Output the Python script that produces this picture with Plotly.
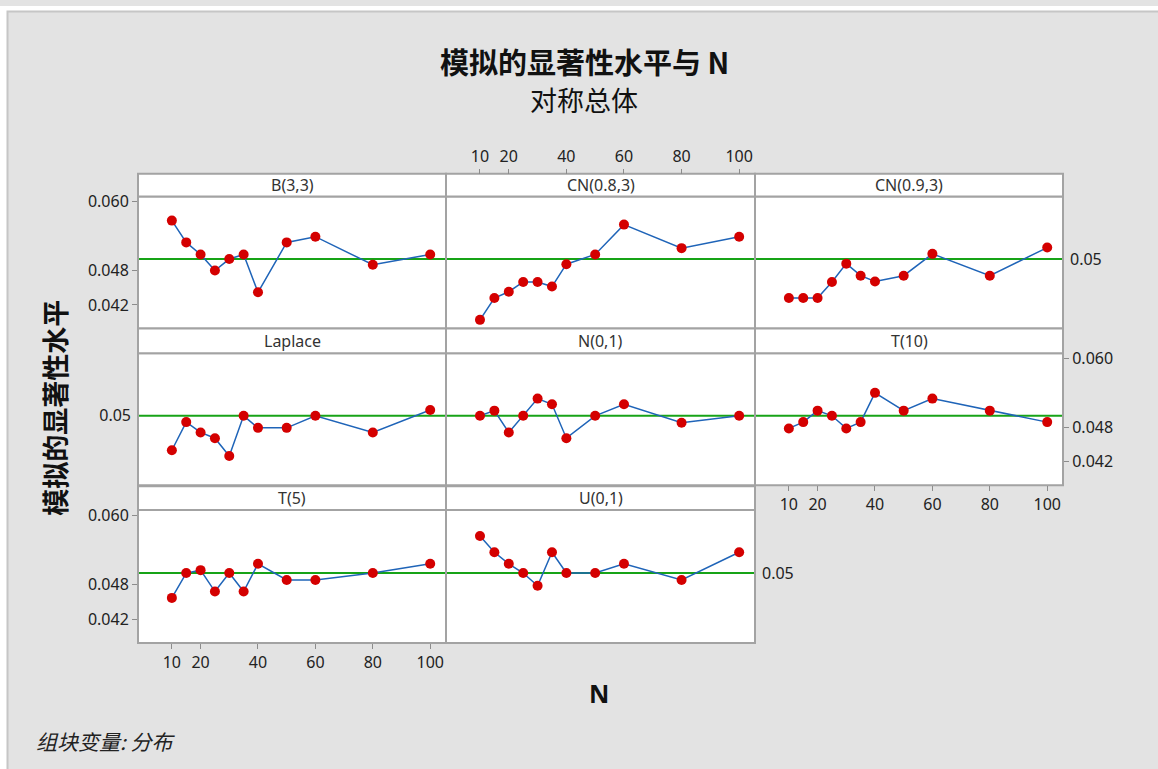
import plotly.graph_objects as go

# Sample sizes and simulated significance levels per distribution
N = [10, 15, 20, 25, 30, 35, 40, 50, 60, 80, 100]
dist_names = ["B(3,3)", "CN(0.8,3)", "CN(0.9,3)", "Laplace", "N(0,1)", "T(10)", "T(5)", "U(0,1)"]

b33 = [0.0567, 0.0529, 0.0508, 0.0480, 0.0500, 0.0508, 0.0442, 0.0529, 0.0539, 0.0490, 0.0508]
cn083 = [0.0394, 0.0432, 0.0443, 0.0460, 0.0460, 0.0452, 0.0491, 0.0508, 0.0560, 0.0519, 0.0539]
cn093 = [0.0432, 0.0432, 0.0432, 0.0460, 0.0492, 0.0471, 0.0461, 0.0471, 0.0509, 0.0471, 0.0520]
laplace = [0.0440, 0.0489, 0.0471, 0.0461, 0.0430, 0.0500, 0.0479, 0.0479, 0.0500, 0.0471, 0.0510]
n01 = [0.0500, 0.0509, 0.0471, 0.0500, 0.0530, 0.0520, 0.0461, 0.0500, 0.0520, 0.0488, 0.0500]
t10 = [0.0478, 0.0489, 0.0509, 0.0500, 0.0478, 0.0489, 0.0540, 0.0509, 0.0530, 0.0509, 0.0489]
t5 = [0.0457, 0.0500, 0.0505, 0.0468, 0.0500, 0.0468, 0.0516, 0.0488, 0.0488, 0.0500, 0.0516]
u01 = [0.0564, 0.0536, 0.0516, 0.0500, 0.0478, 0.0536, 0.0500, 0.0500, 0.0516, 0.0488, 0.0536]
series = [b33, cn083, cn093, laplace, n01, t10, t5, u01]

x_ticks = [10, 20, 40, 60, 80, 100]
y_ticks = [0.042, 0.048, 0.060]
y_tick_text = ["0.042", "0.048", "0.060"]
alpha = 0.05

W, H = 1158, 769
FONT = "Noto Sans, Noto Sans CJK SC, sans-serif"
CJK = "Noto Sans CJK SC, sans-serif"
FRAME = "#a3a3a3"
TICK_SIZE = 16

col_px = [(138, 446), (446, 755), (755, 1063)]
row_px = [(169, 192, 325), (325, 350, 483), (484, 508, 642)]  # strip top, plot top, plot bottom


def fx(p):
    return p / W


def fy(p):
    return 1 - p / H


fig = go.Figure()
shapes = []
annotations = []

# which panels carry tick labels (Minitab-style alternating axes)
x_label_panel = {6: "bottom", 5: "bottom", 1: "top"}
y_label_panel = {0: "left", 5: "right", 6: "left"}
ref_label_panel = {2: "right", 3: "left", 7: "right"}

for i, (name, vals) in enumerate(zip(dist_names, series)):
    r, c = divmod(i, 3)
    xl, xr = col_px[c]
    st, pt, pb = row_px[r]
    k = "" if i == 0 else str(i + 1)
    xa, ya = "x" + k, "y" + k

    fig.add_trace(go.Scatter(
        x=N, y=vals, xaxis=xa, yaxis=ya, mode="lines+markers",
        line=dict(color="#1f64b8", width=1.5),
        marker=dict(color="#d40000", size=10),
        showlegend=False, hoverinfo="x+y",
    ))

    xaxis = dict(
        domain=[fx(xl), fx(xr)], range=[-1.8, 105.5], anchor=ya,
        showgrid=False, zeroline=False, showline=False,
        tickvals=x_ticks, ticks="", showticklabels=False,
        tickfont=dict(family=FONT, size=TICK_SIZE, color="#222222"),
        ticklen=5, tickcolor="#8c8c8c", tickwidth=1,
    )
    side = x_label_panel.get(i)
    if side == "bottom":
        xaxis.update(ticks="outside", showticklabels=True, side="bottom")
    elif side == "top":
        xaxis.update(ticks="outside", showticklabels=True, side="top",
                     anchor="free", position=fy(st))

    yaxis = dict(
        domain=[fy(pb), fy(pt)], range=[0.0379, 0.0609], anchor=xa,
        showgrid=False, zeroline=False, showline=False,
        ticks="", showticklabels=False,
        tickfont=dict(family=FONT, size=TICK_SIZE, color="#222222"),
        ticklen=5, tickcolor="#8c8c8c", tickwidth=1,
    )
    if i in y_label_panel:
        yaxis.update(tickvals=y_ticks, ticktext=y_tick_text, ticks="outside",
                     showticklabels=True, side=y_label_panel[i])
    elif i in ref_label_panel:
        yaxis.update(tickvals=[alpha], ticktext=["0.05"], ticks="",
                     showticklabels=True, side=ref_label_panel[i], ticklabelstandoff=6)

    fig.update_layout(**{("xaxis" + k): xaxis, ("yaxis" + k): yaxis})

    # reference line at the nominal level
    shapes.append(dict(type="line", xref=xa + " domain", yref=ya, x0=0, x1=1,
                       y0=alpha, y1=alpha, line=dict(color="#17a317", width=2),
                       layer="below"))
    # panel frame and strip
    shapes.append(dict(type="rect", xref="paper", yref="paper",
                       x0=fx(xl), x1=fx(xr), y0=fy(pb), y1=fy(pt),
                       line=dict(color=FRAME, width=2), layer="below"))
    shapes.append(dict(type="rect", xref="paper", yref="paper",
                       x0=fx(xl), x1=fx(xr), y0=fy(pt), y1=fy(st),
                       fillcolor="white", line=dict(color=FRAME, width=2),
                       layer="below"))
    annotations.append(dict(text=name, xref="paper", yref="paper",
                            x=fx((xl + xr) / 2), y=fy((st + pt) / 2),
                            showarrow=False, xanchor="center", yanchor="middle",
                            font=dict(family=FONT, size=16, color="#333333")))

# outer white edge with grey border
shapes.insert(0, dict(type="rect", xref="paper", yref="paper", x0=0, x1=1,
                      y0=fy(5), y1=1, fillcolor="white", line=dict(width=0),
                      layer="below"))
shapes.insert(1, dict(type="rect", xref="paper", yref="paper", x0=0, x1=fx(7),
                      y0=0, y1=1, fillcolor="white", line=dict(width=0),
                      layer="below"))
shapes.insert(2, dict(type="rect", xref="paper", yref="paper", x0=fx(7.5), x1=fx(1175),
                      y0=fy(790), y1=fy(5.5), fillcolor="rgba(0,0,0,0)",
                      line=dict(color="#c6c6c6", width=2), layer="below"))

annotations += [
    dict(text="<b>模拟的显著性水平与 N</b>", x=fx(584), y=fy(55), xref="paper", yref="paper",
         showarrow=False, xanchor="center", yanchor="middle",
         font=dict(family=CJK, size=29, color="#111111")),
    dict(text="对称总体", x=fx(584), y=fy(94), xref="paper", yref="paper",
         showarrow=False, xanchor="center", yanchor="middle",
         font=dict(family=CJK, size=27, color="#111111")),
    dict(text="<b>模拟的显著性水平</b>", x=fx(55), y=fy(405), xref="paper", yref="paper",
         showarrow=False, xanchor="center", yanchor="middle", textangle=-90,
         font=dict(family=CJK, size=27, color="#111111")),
    dict(text="<b>N</b>", x=fx(599), y=fy(692), xref="paper", yref="paper",
         showarrow=False, xanchor="center", yanchor="middle",
         font=dict(family="Noto Sans, sans-serif", size=25, color="#111111")),
    dict(text="<i>组块变量: 分布</i>", x=fx(34), y=fy(741), xref="paper", yref="paper",
         showarrow=False, xanchor="left", yanchor="middle",
         font=dict(family=CJK, size=21, color="#222222")),
]

fig.update_layout(
    width=W, height=H, margin=dict(l=0, r=0, t=0, b=0),
    paper_bgcolor="#e3e3e3", plot_bgcolor="white",
    shapes=shapes, annotations=annotations, showlegend=False,
)

fig.write_html("out.html")
